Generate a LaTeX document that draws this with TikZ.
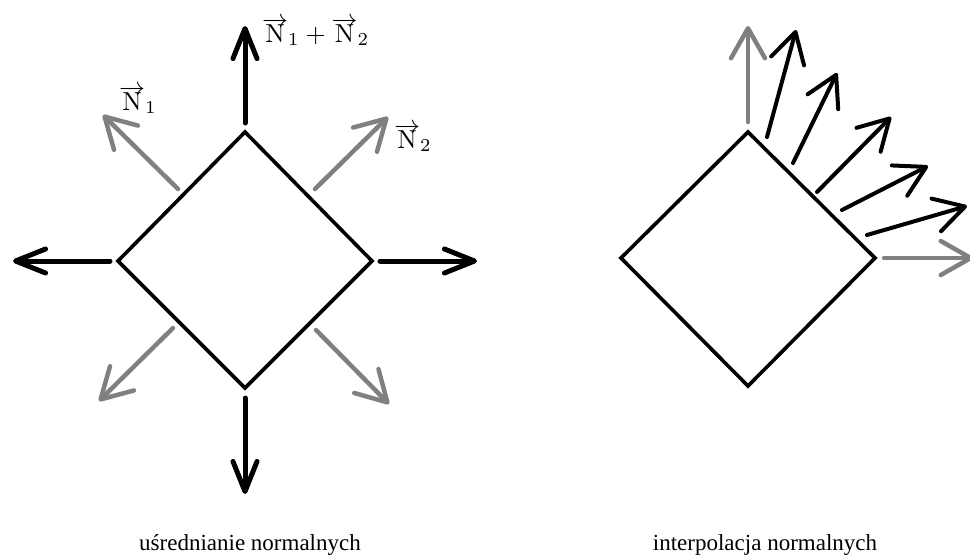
\documentclass[tikz,border=0pt]{standalone}
\usepackage{graphicx}
\usepackage[no-math]{fontspec}
\setmainfont{Liberation Serif}
\usetikzlibrary{arrows.meta}
\definecolor{ngray}{RGB}{128,128,128}
\newcommand{\bigmath}[1]{\scalebox{2.6}{$#1$}}
\newcommand{\vN}{\overrightarrow{\rule{0pt}{6.4pt}\smash{\mathrm{N}}}}
\tikzset{
  diam/.style={line width=3.6pt, line join=miter},
  bigarr/.style={line width=5pt, line cap=round, draw=black,
    -{Straight Barb[length=30pt,width=24pt,line cap=round,line join=round]}},
  widearr/.style={line width=4.5pt, line cap=round,
    -{Straight Barb[length=30pt,width=34pt,line cap=round,line join=round]}},
  grayarr/.style={widearr, draw=ngray},
  blackarr/.style={widearr, line width=4pt, draw=black},
  vlabel/.style={inner sep=0pt, anchor=base west},
  caption/.style={inner sep=0pt, anchor=base, font=\fontsize{23}{27}\selectfont}
}
\begin{document}
\begin{tikzpicture}[x=1pt,y=-1pt]
\useasboundingbox (0,0) rectangle (970,555);
% ---------- left diagram ----------
\coordinate (LT) at (245,132);
\coordinate (LR) at (372,261);
\coordinate (LB) at (245,388);
\coordinate (LL) at (118,261);
\draw[diam] (LT) -- (LR) -- (LB) -- (LL) -- cycle;

\draw[bigarr] (245,123) -- (245,26);
\draw[bigarr] (110,261) -- (13,261);
\draw[bigarr] (380,261) -- (477,261);
\draw[bigarr] (245,398) -- (245,494);

\draw[grayarr] (178,189) -- (103,115);
\draw[grayarr] (315,189) -- (388,117);
\draw[grayarr] (173,328) -- (99,401);
\draw[grayarr] (316,330) -- (389,404);

\node[vlabel] (nsum) at (262,42) {\bigmath{\vN_1+\vN_2}};
\node[vlabel] (n1) at (119,110) {\bigmath{\vN_1}};
\node[vlabel] (n2) at (394,148) {\bigmath{\vN_2}};

\node[caption] (capL) at (250,550) {uśrednianie normalnych};

% ---------- right diagram ----------
\coordinate (RT) at (748,132);
\coordinate (RR) at (875,258);
\coordinate (RB) at (748,386);
\coordinate (RL) at (621,258);
\draw[diam] (RT) -- (RR) -- (RB) -- (RL) -- cycle;

\draw[grayarr] (748,122) -- (748,26);
\draw[grayarr] (884,258) -- (973,258);

\draw[blackarr] (767,137) -- (796,30);
\draw[blackarr] (793,163) -- (837,73);
\draw[blackarr] (817,192) -- (891,117);
\draw[blackarr] (842,210) -- (928,166);
\draw[blackarr] (867,235) -- (967,206);

\node[caption] (capR) at (765,550) {interpolacja normalnych};
\end{tikzpicture}
\end{document}
